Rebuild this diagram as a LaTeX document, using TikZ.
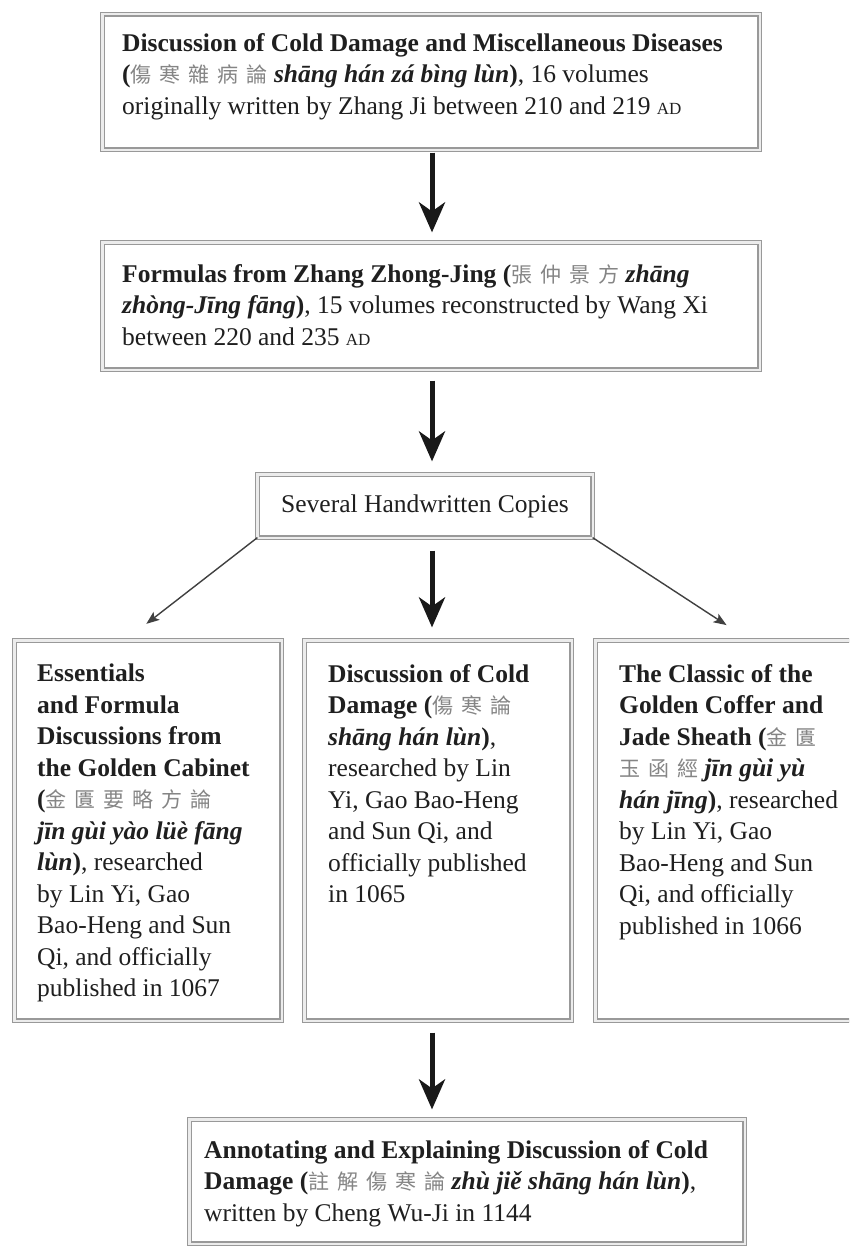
\documentclass[tikz,border=0pt]{standalone}
\usepackage{fontspec}
\setmainfont{Liberation Serif}
\newfontfamily\cjk{Noto Sans CJK TC}
\usetikzlibrary{arrows.meta}
\definecolor{zhgray}{gray}{0.52}
\definecolor{bordergray}{gray}{0.6}
\newcommand\zh[1]{{\cjk\fontsize{21}{21}\selectfont\color{zhgray}#1}}
\newcommand\zs{\hspace{8pt}}
\newcommand\py[1]{{\bfseries\itshape #1}}
\newcommand\adsc{{\fontsize{17}{17}\selectfont AD}}
\tikzset{
  box/.style={draw=bordergray, line width=1.4pt, double=gray!15, double distance=2.2pt, fill=white, inner sep=0pt, outer sep=0pt},
  txt/.style={anchor=north west, inner sep=0pt, align=left, text=black!88},
  bigarrow/.style={-{Stealth[length=30pt,width=26pt,inset=9pt]}, line width=5pt, black!90},
  thinarrow/.style={-{Stealth[length=13pt,width=10pt,inset=3pt]}, line width=1.4pt, black!75}
}
\begin{document}
\begin{tikzpicture}[x=1pt,y=-1pt,font=\fontsize{25.5}{31.5}\selectfont]
\useasboundingbox (0,0) rectangle (849,1247);
\fill[white] (0,0) rectangle (849,1247);
\clip (0,0) rectangle (849,1247);
\coordinate (ax) at (432,0);
% boxes
\node[box, minimum width=657.2pt, minimum height=135.2pt] (b1) at (431,82) {};
\node[box, minimum width=657.2pt, minimum height=127.2pt] (b2) at (431,306) {};
\node[box, minimum width=335.2pt, minimum height=63.2pt] (b3) at (425,506) {};
\node[box, minimum width=267.2pt, minimum height=380.2pt] (L) at (148,830.5) {};
\node[box, minimum width=267.2pt, minimum height=380.2pt] (M) at (438,830.5) {};
\node[box, minimum width=267.2pt, minimum height=380.2pt] (R) at (729,830.5) {};
\node[box, minimum width=555.2pt, minimum height=124.2pt] (bb) at (467,1181.5) {};
% texts
\node[txt] (t1) at (122,33) {{\bfseries Discussion of Cold Damage and Miscellaneous Diseases}\\
{\bfseries(}\zh{傷\zs{}寒\zs{}雜\zs{}病\zs{}論} \py{shāng hán zá bìng lùn}{\bfseries)}, 16 volumes\\
originally written by Zhang Ji between 210 and 219 \adsc};
\node[txt] (t2) at (122,264) {{\bfseries Formulas from Zhang Zhong-Jing (}\zh{張\zs{}仲\zs{}景\zs{}方} \py{zhāng}\\
\py{zhòng-Jīng fāng}{\bfseries)}, 15 volumes reconstructed by Wang Xi\\
between 220 and 235 \adsc};
\node[inner sep=0pt, text=black!88] (t3) at (b3.center) {Several Handwritten Copies};
\node[txt] (tL) at (37,664) {{\bfseries Essentials}\\
{\bfseries and Formula}\\
{\bfseries Discussions from}\\
{\bfseries the Golden Cabinet}\\
{\bfseries(}\zh{金\zs{}匱\zs{}要\zs{}略\zs{}方\zs{}論}\\
\py{jīn gùi yào lüè fāng}\\
\py{lùn}{\bfseries)}, researched\\
by Lin Yi, Gao\\
Bao-Heng and Sun\\
Qi, and officially\\
published in 1067};
\node[txt] (tM) at (328,664) {{\bfseries Discussion of Cold}\\
{\bfseries Damage (}\zh{傷\zs{}寒\zs{}論}\\
\py{shāng hán lùn}{\bfseries)},\\
researched by Lin\\
Yi, Gao Bao-Heng\\
and Sun Qi, and\\
officially published\\
in 1065};
\node[txt] (tR) at (619,664) {{\bfseries The Classic of the}\\
{\bfseries Golden Coffer and}\\
{\bfseries Jade Sheath (}\zh{金\zs{}匱}\\
\zh{玉\zs{}函\zs{}經} \py{jīn gùi yù}\\
\py{hán jīng}{\bfseries)}, researched\\
by Lin Yi, Gao\\
Bao-Heng and Sun\\
Qi, and officially\\
published in 1066};
\node[txt] (tB) at (204,1140) {{\bfseries Annotating and Explaining Discussion of Cold}\\
{\bfseries Damage (}\zh{註\zs{}解\zs{}傷\zs{}寒\zs{}論} \py{zhù jiě shāng hán lùn}{\bfseries)},\\
written by Cheng Wu-Ji in 1144};
% arrows
\draw[bigarrow, shorten <=3pt, shorten >=10pt] (b1.south -| ax) -- (b2.north -| ax);
\draw[bigarrow, shorten <=11pt, shorten >=13pt] (b2.south -| ax) -- (b3.north -| ax);
\draw[bigarrow, shorten <=13pt, shorten >=13pt] (b3.south -| ax) -- (M.north -| ax);
\draw[bigarrow, shorten <=12pt, shorten >=10pt] (M.south -| ax) -- (bb.north -| ax);
\draw[thinarrow, shorten >=27pt] (b3.south west) -- ([xshift=-23pt]L.north);
\draw[thinarrow, shorten >=28pt] (b3.south east) -- ([xshift=21pt]R.north);
\end{tikzpicture}
\end{document}
